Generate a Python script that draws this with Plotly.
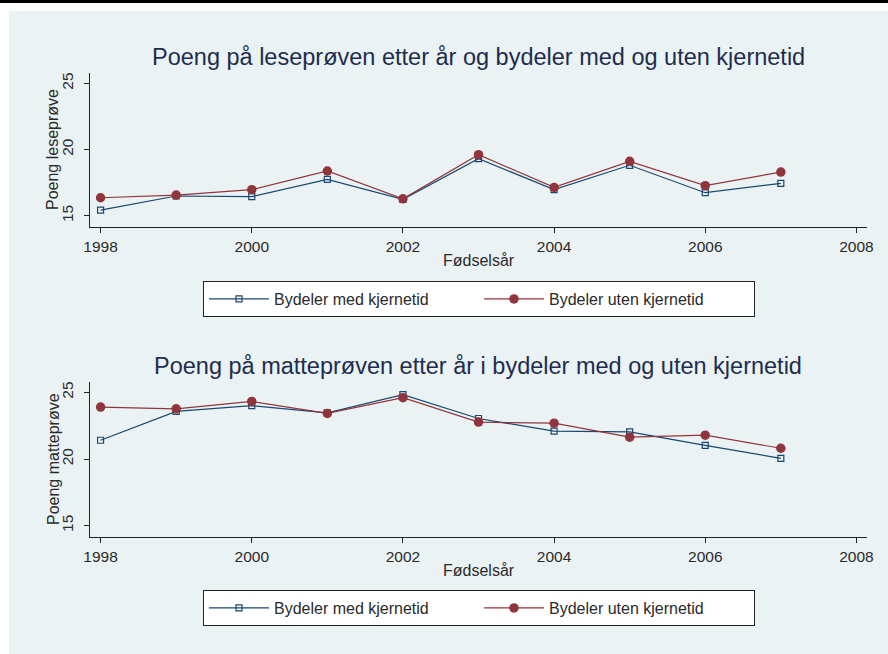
import plotly.graph_objects as go

years = [1998, 1999, 2000, 2001, 2002, 2003, 2004, 2005, 2006, 2007]
lese_med = [15.43, 16.49, 16.44, 17.75, 16.24, 19.31, 16.97, 18.81, 16.74, 17.45]
lese_uten = [16.36, 16.56, 16.97, 18.38, 16.28, 19.61, 17.14, 19.11, 17.27, 18.30]
matte_med = [21.41, 23.57, 24.00, 23.47, 24.83, 23.04, 22.09, 22.04, 21.03, 20.05]
matte_uten = [23.90, 23.77, 24.32, 23.42, 24.60, 22.77, 22.69, 21.64, 21.79, 20.81]
series_names = ["Bydeler med kjernetid", "Bydeler uten kjernetid"]
titles = ["Poeng på leseprøven etter år og bydeler med og uten kjernetid",
          "Poeng på matteprøven etter år i bydeler med og uten kjernetid"]
ytitles = ["Poeng leseprøve", "Poeng matteprøve"]
xtitle = "Fødselsår"
xticks = [1998, 2000, 2002, 2004, 2006, 2008]
yticks = [15, 20, 25]

W, H = 888, 654
NAVY = "#1A476F"
MAROON = "#90353B"
BG = "#EAF2F3"
TITLE_C = "#1E2D4F"
TXT = "#2a2a2a"
FONT = "Liberation Sans, Arial, sans-serif"

def px(x):
    return x / W

def py(y):
    return 1 - y / H

fig = go.Figure()

panels = [
    (lese_med, lese_uten, "x", "y", "legend"),
    (matte_med, matte_uten, "x2", "y2", "legend2"),
]
for med, uten, xa, ya, lg in panels:
    fig.add_trace(go.Scatter(
        x=years, y=med, xaxis=xa, yaxis=ya, name=series_names[0], legend=lg,
        mode="lines+markers",
        line=dict(color=NAVY, width=1.2),
        marker=dict(symbol="square-open", size=6, color=NAVY, line=dict(width=1.2, color=NAVY)),
    ))
    fig.add_trace(go.Scatter(
        x=years, y=uten, xaxis=xa, yaxis=ya, name=series_names[1], legend=lg,
        mode="lines+markers",
        line=dict(color=MAROON, width=1.2),
        marker=dict(symbol="circle", size=9.5, color=MAROON),
    ))

xdom = [px(90), px(867)]
axis_common_x = dict(
    range=[1997.86, 2008.14], tickvals=xticks, ticks="outside", ticklen=5, tickcolor="#222",
    showline=True, linecolor="#222", linewidth=1, showgrid=False, zeroline=False,
    tickfont=dict(family=FONT, size=15.5, color=TXT), domain=xdom, automargin=False,
)
axis_common_y = dict(
    range=[14.15, 25.78], tickvals=yticks, ticks="outside", ticklen=5, tickcolor="#222",
    showline=True, linecolor="#222", linewidth=1, showgrid=True, gridcolor=BG, gridwidth=1,
    zeroline=False, tickangle=-90, ticklabelstandoff=5, automargin=False,
    tickfont=dict(family=FONT, size=15.5, color=TXT),
)

legend_common = dict(
    orientation="h", x=px(479), xanchor="center", yanchor="top",
    bgcolor="white", bordercolor="#222", borderwidth=1, entrywidth=200,
    font=dict(family=FONT, size=16, color=TXT), itemwidth=60,
)

fig.update_layout(
    width=W, height=H,
    margin=dict(l=0, r=0, t=0, b=0, pad=0, autoexpand=False),
    paper_bgcolor="white",
    plot_bgcolor="white",
    font=dict(family=FONT, color=TXT),
    xaxis=dict(axis_common_x, anchor="y"),
    yaxis=dict(axis_common_y, domain=[py(227), py(73)], anchor="x"),
    xaxis2=dict(axis_common_x, anchor="y2"),
    yaxis2=dict(axis_common_y, domain=[py(537), py(382)], anchor="x2"),
    legend=dict(legend_common, y=py(281)),
    legend2=dict(legend_common, y=py(590)),
    showlegend=True,
)

shapes = [
    dict(type="rect", xref="paper", yref="paper", x0=px(9), x1=1, y0=0, y1=py(11),
         fillcolor=BG, line=dict(width=0), layer="below"),
    dict(type="rect", xref="paper", yref="paper", x0=0, x1=1, y0=py(3), y1=1,
         fillcolor="black", line=dict(width=0), layer="below"),
]
fig.update_layout(shapes=shapes)

ann = []
for t, ty in zip(titles, [57, 366]):
    ann.append(dict(text=t, x=px(478), y=py(ty), xref="paper", yref="paper",
                    xanchor="center", yanchor="middle", showarrow=False,
                    font=dict(family=FONT, size=23.5, color=TITLE_C)))
for t, cy in zip(ytitles, [150, 459]):
    ann.append(dict(text=t, x=px(53), y=py(cy), xref="paper", yref="paper",
                    xanchor="center", yanchor="middle", showarrow=False, textangle=-90,
                    font=dict(family=FONT, size=16, color=TXT)))
for cy in [261, 570]:
    ann.append(dict(text=xtitle, x=px(479), y=py(cy), xref="paper", yref="paper",
                    xanchor="center", yanchor="middle", showarrow=False,
                    font=dict(family=FONT, size=16, color=TXT)))
fig.update_layout(annotations=ann)

fig.write_html("out.html", config={"displayModeBar": False},
               post_script="document.body.style.margin='0';document.body.style.padding='0';document.body.style.overflow='hidden';")
